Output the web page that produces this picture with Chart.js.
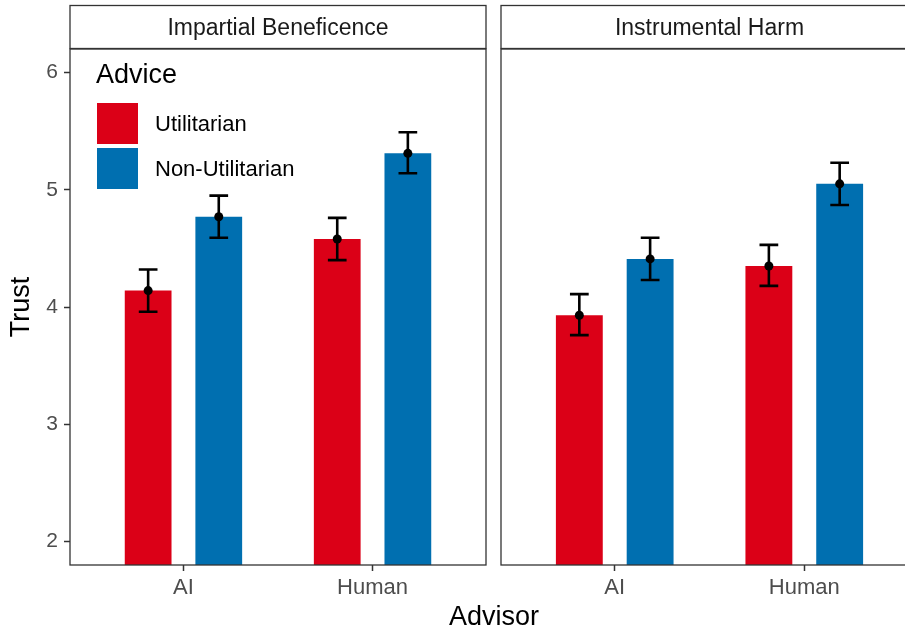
<!DOCTYPE html>
<html>
<head>
<meta charset="utf-8">
<script src="https://cdn.jsdelivr.net/npm/chart.js@4.4.1/dist/chart.umd.min.js"></script>
<style>
    html, body { margin: 0; padding: 0; background: #fff; overflow: hidden; }
    #wrap { position: relative; width: 905px; height: 631px; overflow: hidden; background: #fff; font-family: "Liberation Sans", Arial, sans-serif; }
    #wrap canvas { position: absolute; top: 0; }
    .legend { position: absolute; left: 97px; top: 61px; color: #000; }
    .legend .title { font-size: 27px; line-height: 27px; margin-left: -1px; height: 42px; }
    .legend .row { display: flex; align-items: center; height: 41px; margin-bottom: 4px; }
    .legend .key { width: 41px; height: 41px; margin-right: 17px; }
    .legend .lab { font-size: 22px; line-height: 22px; }
    #xtitle { position: absolute; left: 0; width: 988px; top: 603px; text-align: center; font-size: 27px; line-height: 27px; color: #000; }
</style>
</head>
<body>
<div id="wrap">
    <canvas id="chartA" width="490" height="631" style="left:0"></canvas>
    <canvas id="chartB" width="432" height="631" style="left:490px"></canvas>
    <div class="legend" id="legend"></div>
    <div id="xtitle">Advisor</div>
</div>
<script>
// data
const panels = ['Impartial Beneficence', 'Instrumental Harm'];
const advisors = ['AI', 'Human'];
const adviceTypes = ['Utilitarian', 'Non-Utilitarian'];
const adviceColors = ['#DB0017', '#006FB0'];
const yTicks = [2, 3, 4, 5, 6];

// Impartial Beneficence
const ibUtilMean = [4.14, 4.58];
const ibUtilLow = [3.96, 4.40];
const ibUtilHigh = [4.32, 4.76];
const ibNonMean = [4.77, 5.31];
const ibNonLow = [4.59, 5.14];
const ibNonHigh = [4.95, 5.49];

// Instrumental Harm
const ihUtilMean = [3.93, 4.35];
const ihUtilLow = [3.76, 4.18];
const ihUtilHigh = [4.11, 4.53];
const ihNonMean = [4.41, 5.05];
const ihNonLow = [4.23, 4.87];
const ihNonHigh = [4.59, 5.23];

const FONT = '"Liberation Sans", Arial, sans-serif';
Chart.defaults.font.family = FONT;

// error bars + mean points, drawn on the bar positions
const errorBarPlugin = {
    id: 'errorBars',
    afterDatasetsDraw(chart) {
        const ctx = chart.ctx;
        const yScale = chart.scales.y;
        ctx.save();
        chart.data.datasets.forEach((ds, i) => {
            const meta = chart.getDatasetMeta(i);
            meta.data.forEach((bar, j) => {
                const x = bar.x;
                const yLo = yScale.getPixelForValue(ds.low[j]);
                const yHi = yScale.getPixelForValue(ds.high[j]);
                const yMean = yScale.getPixelForValue(ds.mean[j]);
                const cap = bar.width * 0.2;
                ctx.strokeStyle = '#000';
                ctx.lineWidth = 2.6;
                ctx.beginPath();
                ctx.moveTo(x, yLo); ctx.lineTo(x, yHi);
                ctx.moveTo(x - cap, yLo); ctx.lineTo(x + cap, yLo);
                ctx.moveTo(x - cap, yHi); ctx.lineTo(x + cap, yHi);
                ctx.stroke();
                ctx.fillStyle = '#000';
                ctx.beginPath();
                ctx.arc(x, yMean, 4.5, 0, Math.PI * 2);
                ctx.fill();
            });
        });
        ctx.restore();
    }
};

// panel border and facet strip
const panelPlugin = {
    id: 'panelFrame',
    afterDraw(chart, args, opts) {
        const ctx = chart.ctx;
        const a = chart.chartArea;
        ctx.save();
        ctx.strokeStyle = '#333333';
        ctx.lineWidth = 1.3;
        ctx.strokeRect(a.left, a.top, a.right - a.left, a.bottom - a.top);
        ctx.fillStyle = '#fff';
        ctx.fillRect(a.left, 5.5, a.right - a.left, 43);
        ctx.strokeRect(a.left, 5.5, a.right - a.left, 43);
        ctx.fillStyle = '#1A1A1A';
        ctx.font = '23px ' + FONT;
        ctx.textAlign = 'center';
        ctx.textBaseline = 'alphabetic';
        ctx.fillText(opts.label, (a.left + a.right) / 2, 34.5);
        ctx.restore();
    }
};

function makeDatasets(means, lows, highs) {
    return means.map((m, k) => ({
        label: adviceTypes[k],
        data: m.map((v, i) => ({ x: i, y: v })),
        mean: m,
        low: lows[k],
        high: highs[k],
        backgroundColor: adviceColors[k],
        borderWidth: 0,
        categoryPercentage: 0.747,
        barPercentage: 0.662
    }));
}

function makeChart(id, panelIdx, datasets, showY) {
    return new Chart(document.getElementById(id), {
        type: 'bar',
        data: { datasets },
        plugins: [errorBarPlugin, panelPlugin],
        options: {
            responsive: false,
            animation: false,
            layout: { padding: { top: 49, right: 4, bottom: 0, left: showY ? 0 : 11 } },
            plugins: {
                legend: { display: false },
                tooltip: { enabled: false },
                panelFrame: { label: panels[panelIdx] }
            },
            scales: {
                x: {
                    type: 'linear',
                    min: -0.6,
                    max: 1.6,
                    offset: false,
                    afterBuildTicks: s => { s.ticks = advisors.map((c, i) => ({ value: i })); },
                    afterFit: s => { s.height = 66; },
                    ticks: {
                        callback: v => advisors[v],
                        font: { size: 22 },
                        color: '#4D4D4D',
                        padding: 4,
                        maxRotation: 0,
                        autoSkip: false
                    },
                    grid: { offset: false, drawOnChartArea: false, drawTicks: true, tickLength: 6, color: '#333333', tickWidth: 1.5 },
                    border: { display: false }
                },
                y: {
                    display: showY,
                    min: 1.8,
                    max: 6.2,
                    afterBuildTicks: s => { s.ticks = yTicks.map(v => ({ value: v })); },
                    afterFit: s => { s.width = showY ? 70 : 0; },
                    ticks: {
                        font: { size: 21 },
                        color: '#4D4D4D',
                        padding: 6
                    },
                    grid: { drawOnChartArea: false, drawTicks: true, tickLength: 6, color: '#333333', tickWidth: 1.5 },
                    border: { display: false },
                    title: {
                        display: true,
                        text: 'Trust',
                        color: '#000',
                        font: { size: 27 },
                        padding: { top: 5.5, bottom: 0 }
                    }
                }
            }
        }
    });
}

makeChart('chartA', 0, makeDatasets([ibUtilMean, ibNonMean], [ibUtilLow, ibNonLow], [ibUtilHigh, ibNonHigh]), true);
makeChart('chartB', 1, makeDatasets([ihUtilMean, ihNonMean], [ihUtilLow, ihNonLow], [ihUtilHigh, ihNonHigh]), false);

// legend
const legend = document.getElementById('legend');
legend.innerHTML = '<div class="title">Advice</div>' + adviceTypes.map((t, k) => `
    <div class="row"><div class="key" style="background:${adviceColors[k]}"></div><div class="lab">${t}</div></div>`).join('');
</script>
</body>
</html>
